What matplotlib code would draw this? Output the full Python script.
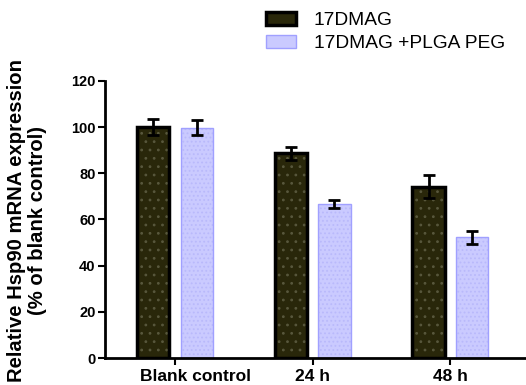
import numpy as np
import matplotlib
matplotlib.use("Agg")
import matplotlib.pyplot as plt
from matplotlib.patches import Patch

plt.rcParams['font.family'] = ['Liberation Sans', 'DejaVu Sans']
plt.rcParams['hatch.linewidth'] = 0.8

# data
groups = ["Blank control", "24 h", "48 h"]
series_names = ["17DMAG", "17DMAG +PLGA PEG"]
dmag = [100.2, 88.7, 74.2]
dmag_err = [3.5, 2.8, 5.0]
plga = [99.8, 66.8, 52.3]
plga_err = [3.2, 1.8, 2.8]
yticks = [0, 20, 40, 60, 80, 100, 120]

fig = plt.figure(figsize=(5.26, 3.85), dpi=100)
ax = fig.add_axes([0.2, 0.07, 0.8, 0.72])

x = np.arange(len(groups))
w = 0.235
off = 0.158

# dark bars: fill + faint dot texture, then thick black outline on top
ax.bar(x - off, dmag, w, color='#29270a', edgecolor='#58573c', linewidth=0,
       hatch='..', zorder=2)
ax.bar(x - off, dmag, w, color='none', edgecolor='black', linewidth=2.5, zorder=2)
# light bars
ax.bar(x + off, plga, w, color='#cacaff', edgecolor='#b9b9fb', linewidth=0,
       hatch='....', zorder=2)
ax.bar(x + off, plga, w, color='none', edgecolor='#a0a0ff', linewidth=1, zorder=2)

for xs, v, e in [(x - off, dmag, dmag_err), (x + off, plga, plga_err)]:
    ax.errorbar(xs, v, yerr=e, fmt='none', ecolor='black', elinewidth=2,
                capsize=4.3, capthick=2, zorder=3)

ax.set_xlim(-0.507, 2.55)
ax.set_ylim(0, 120)
ax.set_yticks(yticks)
# tick marks on the group centres, labels on minor ticks
# ("Blank control" sits a bit right of its tick in the original)
ax.xaxis.remove_overlapping_locs = False
ax.set_xticks(x, labels=[])
ax.set_xticks(x + np.array([0.15, 0, 0]), labels=groups, minor=True,
              fontweight='bold', fontsize=12.5)
for lab in ax.get_yticklabels():
    lab.set_fontweight('bold')
    lab.set_fontsize(10.5)
ax.tick_params(axis='both', direction='out', width=1.5, length=5, pad=2)
ax.tick_params(axis='x', which='minor', length=0, pad=8)
ax.spines['top'].set_visible(False)
ax.spines['right'].set_visible(False)
ax.spines['left'].set_linewidth(2)
ax.spines['bottom'].set_linewidth(2)
ax.set_ylabel("Relative Hsp90 mRNA expression\n(% of blank control)",
              fontweight='bold', fontsize=14.6, linespacing=1.12)
ax.yaxis.set_label_coords(-0.138, 0.495)

handles = [
    Patch(facecolor='#29270a', edgecolor='black', linewidth=2.5),
    Patch(facecolor='#cacaff', edgecolor='#a0a0ff', linewidth=1),
]
fig.legend(handles, series_names, loc='upper left', bbox_to_anchor=(0.487, 0.993),
           frameon=False, borderpad=0, fontsize=13.8, handlelength=1.6,
           handleheight=0.65, handletextpad=0.9, labelspacing=0.28)

fig.savefig("out.png", dpi=100)
